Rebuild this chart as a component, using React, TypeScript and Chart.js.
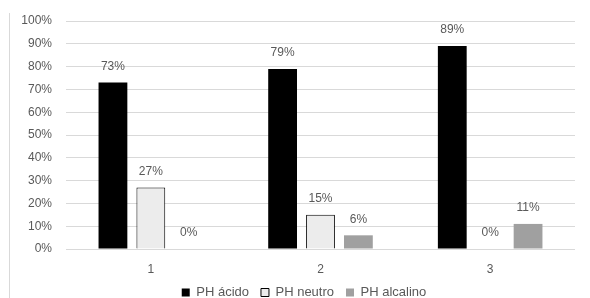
import React, { useEffect, useRef } from "react";
import { Chart, registerables } from "chart.js";

Chart.register(...registerables);

const categories = ["1", "2", "3"];
const seriesNames = ["PH ácido", "PH neutro", "PH alcalino"];
const acido = [73, 79, 89];
const neutro = [27, 15, 0];
const alcalino = [0, 6, 11];
const yTicks = [0, 10, 20, 30, 40, 50, 60, 70, 80, 90, 100];

const FONT = "'Liberation Sans', Arial, sans-serif";
const TEXT = "#595959";

const labelPlugin = {
  id: "barLabels",
  afterDatasetsDraw(chart: any) {
    const ctx = chart.ctx;
    ctx.save();
    ctx.font = `12px ${FONT}`;
    ctx.fillStyle = TEXT;
    ctx.textAlign = "center";
    ctx.textBaseline = "middle";
    chart.data.datasets.forEach((ds: any, i: number) => {
      const meta = chart.getDatasetMeta(i);
      meta.data.forEach((bar: any, j: number) => {
        ctx.fillText(ds.data[j] + "%", bar.x, bar.y - 16);
      });
    });
    // y-axis tick labels, positioned by the y scale
    const y = chart.scales.y;
    ctx.textAlign = "right";
    yTicks.forEach((v) => {
      ctx.fillText(v + "%", chart.chartArea.left - 14, y.getPixelForValue(v));
    });
    ctx.restore();
  },
};

export default function App() {
  const ref = useRef<HTMLCanvasElement>(null);
  useEffect(() => {
    if (!ref.current) return;
    const chart = new Chart(ref.current, {
      type: "bar",
      data: {
        labels: categories,
        datasets: [
          { label: seriesNames[0], data: acido, backgroundColor: "#000000", borderColor: "#000000", borderWidth: 0 },
          { label: seriesNames[1], data: neutro, backgroundColor: "#ececec", borderColor: "#000000", borderWidth: 1 },
          { label: seriesNames[2], data: alcalino, backgroundColor: "#a0a0a0", borderColor: "#a0a0a0", borderWidth: 0 },
        ],
      },
      options: {
        animation: false,
        responsive: false,
        layout: { padding: { top: 21, right: 15, left: 33, bottom: -11 } },
        datasets: { bar: { categoryPercentage: 0.67, barPercentage: 0.76 } },
        scales: {
          x: {
            afterFit: (s: any) => { s.height = 25; },
            grid: { display: false, drawTicks: false },
            border: { display: false },
            ticks: { color: TEXT, font: { size: 12, family: FONT }, padding: 13 },
          },
          y: {
            min: 0,
            max: 100,
            afterFit: (s: any) => { s.width = 33; },
            afterBuildTicks: (s: any) => { s.ticks = yTicks.map((v) => ({ value: v })); },
            grid: { color: "#d9d9d9", drawTicks: false },
            border: { display: false },
            ticks: { display: false },
          },
        },
        plugins: {
          legend: {
            position: "bottom",
            labels: {
              color: TEXT,
              font: { size: 13, family: FONT },
              boxWidth: 8,
              boxHeight: 8,
              padding: 12,
              useBorderRadius: false,
            },
          },
          tooltip: { enabled: false },
        },
      },
      plugins: [labelPlugin],
    });
    return () => chart.destroy();
  }, []);
  return (
    <div style={{ position: "absolute", left: 0, top: 0, width: 590, height: 298, background: "#fff", overflow: "hidden" }}>
      <div style={{ position: "absolute", left: 9, top: 13, width: 1, height: 285, background: "#d9d9d9" }} />
      <canvas ref={ref} width={590} height={298} style={{ position: "absolute", left: 0, top: 0 }} />
    </div>
  );
}
